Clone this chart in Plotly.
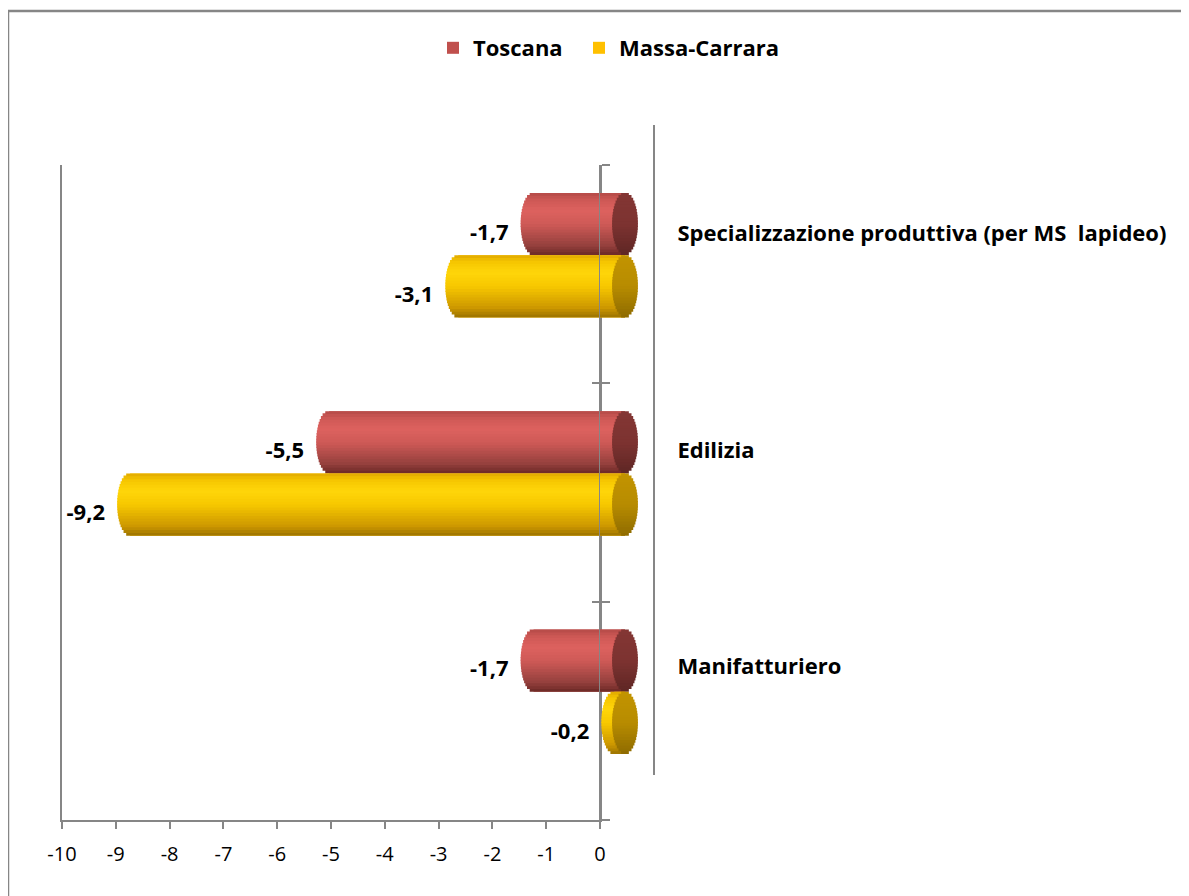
import numpy as np
import plotly.graph_objects as go

# data
categories = ["Manifatturiero", "Edilizia", "Specializzazione produttiva (per MS&nbsp; lapideo)"]
toscana = [-1.7, -5.5, -1.7]
massa_carrara = [-0.2, -9.2, -3.1]
x_ticks = list(range(-10, 1))
x_tick_labels = [str(v) for v in x_ticks]

W, H = 1189, 896
PAGE = 8            # body margin of the html page
FONT = "Open Sans"
GREY = "#868686"


def fx(p):
    return (p - PAGE) / W


def fy(p):
    return 1 - (p - PAGE) / H


def hex_rgb(h):
    h = h.lstrip("#")
    return np.array([int(h[i:i + 2], 16) for i in (0, 2, 4)], dtype=float)


def grad(stops, colors, u):
    cols = np.array([hex_rgb(c) for c in colors])
    rgb = [np.interp(u, stops, cols[:, i]) for i in range(3)]
    return "rgb(%d,%d,%d)" % tuple(int(round(v)) for v in rgb)


BAR_W = 0.285   # bar thickness in category units
N = 22          # strips used to fake the cylinder shading
A = 0.24        # half width of the end ellipses in value units
STOPS = [0, 0.15, 0.5, 0.72, 0.9, 1]

series = [
    dict(name="Toscana", vals=toscana, base="#C0504D", off=0.0, legend="legend",
         body=["#6B2826", "#94403D", "#CF5A57", "#DD625F", "#CC5754", "#B34A47"],
         cap=["#5E2624", "#7D3331", "#833634"]),
    dict(name="Massa-Carrara", vals=massa_carrara, base="#FFC000", off=-BAR_W, legend="legend2",
         body=["#9A7200", "#CC9700", "#F7C800", "#FFD60A", "#F5C500", "#E0A800"],
         cap=["#8E6B00", "#B88C00", "#C29400"]),
]

ys = list(range(len(categories)))
fig = go.Figure()

for s in series:
    # flat base bar (also the legend entry)
    fig.add_trace(go.Bar(x=s["vals"], y=ys, orientation="h", base=0, width=BAR_W, offset=s["off"],
                         marker=dict(color=s["base"], line=dict(width=0)), name=s["name"],
                         xaxis="x3", yaxis="y5", hoverinfo="skip", legendgroup=s["name"],
                         legend=s["legend"]))
    h = BAR_W / N
    for k in range(N):
        u = (k + 0.5) / N
        dx = A * np.sqrt(max(0.0, 1 - (2 * u - 1) ** 2))
        wk = min(h * 1.3, BAR_W - k * h)
        fig.add_trace(go.Bar(x=[v - dx for v in s["vals"]], y=ys, orientation="h", base=0,
                             width=wk, offset=s["off"] + k * h,
                             marker=dict(color=grad(STOPS, s["body"], u), line=dict(width=0)),
                             xaxis="x3", yaxis="y5", showlegend=False, hoverinfo="skip",
                             legendgroup=s["name"]))
    for k in range(N):
        u = (k + 0.5) / N
        dx = A * np.sqrt(max(0.0, 1 - (2 * u - 1) ** 2))
        wk = min(h * 1.3, BAR_W - k * h)
        fig.add_trace(go.Bar(x=[2 * dx] * len(ys), y=ys, orientation="h", base=-dx,
                             width=wk, offset=s["off"] + k * h,
                             marker=dict(color=grad([0, 0.5, 1], s["cap"], u), line=dict(width=0)),
                             xaxis="x3", yaxis="y5", showlegend=False, hoverinfo="skip",
                             legendgroup=s["name"]))

# value labels (front axes)
for s in series:
    fig.add_trace(go.Scatter(
        x=s["vals"], y=[i + s["off"] + BAR_W / 2 + 0.04 for i in ys],
        xaxis="x", yaxis="y", mode="text",
        text=[("%.1f" % v).replace(".", ",") for v in s["vals"]],
        textposition="middle left", cliponaxis=False,
        textfont=dict(family=FONT, size=22, color="#000000", weight="bold"),
        showlegend=False, hoverinfo="skip"))

# invisible anchors so every helper axis gets drawn
for xa, ya in [("x", "y2"), ("x", "y3"), ("x2", "y4")]:
    fig.add_trace(go.Scatter(x=toscana, y=ys, xaxis=xa, yaxis=ya, mode="markers",
                             marker=dict(opacity=0, size=1), showlegend=False, hoverinfo="skip"))

front_x = [62, 600]
front_y = [165, 820]
mid_dx, mid_dy = 25, -19
back_x = [115, 653]
back_y = [125, 775]
px_per_unit = (front_x[1] - front_x[0]) / 10.0

legend_font = dict(family=FONT, size=22, color="#000000", weight="bold")

fig.update_layout(
    width=W, height=H,
    margin=dict(l=0, r=0, t=0, b=0, autoexpand=False),
    paper_bgcolor="white", plot_bgcolor="rgba(0,0,0,0)",
    barmode="overlay",
    separators=",.",
    font=dict(family=FONT, size=20, color="#000000"),
    showlegend=True,
    legend=dict(orientation="h", x=fx(433), xanchor="left", y=fy(48), yanchor="middle",
                font=legend_font, bgcolor="rgba(0,0,0,0)"),
    legend2=dict(orientation="h", x=fx(579), xanchor="left", y=fy(48), yanchor="middle",
                 font=legend_font, bgcolor="rgba(0,0,0,0)"),
    # front axes
    xaxis=dict(domain=[fx(front_x[0]), fx(front_x[1])], range=[-10, 0], anchor="y",
               showline=True, linecolor=GREY, linewidth=2, ticks="outside", ticklen=7,
               tickcolor=GREY, tickwidth=2, tickvals=x_ticks, ticktext=x_tick_labels,
               tickfont=dict(family=FONT, size=20, color="#000000"), ticklabelstandoff=8,
               showgrid=False, zeroline=False, fixedrange=True),
    yaxis=dict(domain=[fy(front_y[1]), fy(front_y[0])], range=[-0.5, 2.5], anchor="x",
               side="right", showline=True, linecolor=GREY, linewidth=2,
               ticks="outside", ticklen=8, tickcolor=GREY, tickwidth=2,
               tickvals=[-0.5, 0.5, 1.5, 2.5], showticklabels=False,
               showgrid=False, zeroline=False),
    yaxis2=dict(overlaying="y", anchor="x", side="right", range=[-0.5, 2.5],
                showline=False, ticks="inside", ticklen=8, tickcolor=GREY, tickwidth=2,
                tickvals=[-0.5, 0.5, 1.5, 2.5], showticklabels=False,
                showgrid=False, zeroline=False),
    yaxis3=dict(overlaying="y", anchor="x", side="left", range=[-0.5, 2.5],
                showline=True, linecolor=GREY, linewidth=2, ticks="",
                showticklabels=False, showgrid=False, zeroline=False),
    # back wall edge with category labels
    xaxis2=dict(domain=[fx(back_x[0]), fx(back_x[1])], range=[-10, 0], anchor="y4",
                visible=False),
    yaxis4=dict(domain=[fy(back_y[1]), fy(back_y[0])], range=[-0.5, 2.5], anchor="x2",
                side="right", showline=True, linecolor=GREY, linewidth=2, ticks="",
                tickvals=ys, ticktext=categories, ticklabelstandoff=18,
                tickfont=dict(family=FONT, size=22, color="#000000", weight="bold"),
                showgrid=False, zeroline=False),
    # bars (halfway into the depth)
    xaxis3=dict(domain=[fx(front_x[0] + mid_dx), fx(front_x[1] + mid_dx + px_per_unit)],
                range=[-10, 1], anchor="y5", visible=False),
    yaxis5=dict(domain=[fy(front_y[1] + mid_dy), fy(front_y[0] + mid_dy)], range=[-0.5, 2.5],
                anchor="x3", visible=False),
    shapes=[
        dict(type="line", xref="x", yref="y domain", x0=0, x1=0, y0=0, y1=1,
             line=dict(color=GREY, width=2), layer="above"),
        dict(type="path", xref="paper", yref="paper",
             path="M %f -0.05 L %f %f L 1.05 %f" % (fx(8), fx(8), fy(11), fy(11)),
             line=dict(color=GREY, width=2.5)),
    ],
)

fig.write_html("out.html")
